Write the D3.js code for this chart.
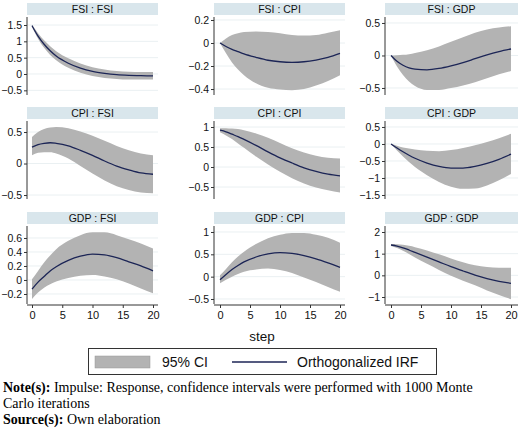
<!DOCTYPE html>
<html>
<head>
<meta charset="utf-8">
<script src="https://cdn.jsdelivr.net/npm/d3@7"></script>
<style>
  body { margin: 0; background: #fff; }
  svg { display: block; }
  .tick text { font-family: "Liberation Sans", Arial, sans-serif; }
</style>
</head>
<body>
<svg width="520" height="428"></svg>
<script>
var steps = [0, 1, 2, 3, 4, 6, 8, 10, 12, 14, 16, 18, 20];
var xTicks = [0, 5, 10, 15, 20];

// impulse : response  (irf, lower 95%, upper 95%)
var fsiFsiIrf = [1.48, 1.16, 0.91, 0.71, 0.55, 0.33, 0.18, 0.08, 0.02, -0.02, -0.04, -0.05, -0.06];
var fsiFsiLo  = [1.45, 1.08, 0.80, 0.58, 0.42, 0.19, 0.04, -0.06, -0.12, -0.15, -0.17, -0.17, -0.17];
var fsiFsiHi  = [1.51, 1.25, 1.03, 0.85, 0.70, 0.48, 0.32, 0.21, 0.14, 0.09, 0.07, 0.06, 0.06];

var fsiCpiIrf = [0, -0.03, -0.055, -0.075, -0.095, -0.125, -0.15, -0.163, -0.168, -0.163, -0.148, -0.125, -0.09];
var fsiCpiLo  = [0, -0.09, -0.17, -0.23, -0.28, -0.35, -0.39, -0.405, -0.41, -0.40, -0.37, -0.33, -0.28];
var fsiCpiHi  = [0, 0.04, 0.07, 0.085, 0.095, 0.10, 0.095, 0.085, 0.07, 0.065, 0.07, 0.09, 0.11];

var fsiGdpIrf = [0, -0.09, -0.15, -0.19, -0.21, -0.22, -0.20, -0.16, -0.11, -0.05, 0.01, 0.06, 0.10];
var fsiGdpLo  = [0, -0.17, -0.30, -0.40, -0.47, -0.53, -0.53, -0.50, -0.46, -0.41, -0.35, -0.29, -0.24];
var fsiGdpHi  = [0, 0.005, 0.01, 0.02, 0.04, 0.08, 0.14, 0.21, 0.28, 0.35, 0.40, 0.43, 0.45];

var cpiFsiIrf = [0.26, 0.30, 0.32, 0.33, 0.32, 0.28, 0.21, 0.13, 0.04, -0.04, -0.10, -0.15, -0.17];
var cpiFsiLo  = [0.13, 0.17, 0.18, 0.18, 0.16, 0.08, -0.04, -0.16, -0.27, -0.36, -0.42, -0.46, -0.47];
var cpiFsiHi  = [0.42, 0.50, 0.55, 0.57, 0.58, 0.56, 0.51, 0.44, 0.36, 0.28, 0.21, 0.16, 0.13];

var cpiCpiIrf = [0.92, 0.88, 0.82, 0.76, 0.69, 0.54, 0.38, 0.23, 0.10, -0.02, -0.11, -0.18, -0.22];
var cpiCpiLo  = [0.87, 0.79, 0.70, 0.59, 0.48, 0.26, 0.06, -0.12, -0.28, -0.41, -0.51, -0.58, -0.64];
var cpiCpiHi  = [0.97, 0.97, 0.96, 0.95, 0.92, 0.84, 0.73, 0.60, 0.47, 0.36, 0.28, 0.23, 0.21];

var cpiGdpIrf = [0, -0.12, -0.23, -0.33, -0.42, -0.56, -0.66, -0.71, -0.71, -0.66, -0.57, -0.45, -0.30];
var cpiGdpLo  = [0, -0.19, -0.37, -0.53, -0.68, -0.92, -1.12, -1.26, -1.32, -1.31, -1.22, -1.07, -0.88];
var cpiGdpHi  = [0, -0.05, -0.10, -0.13, -0.16, -0.20, -0.21, -0.18, -0.12, -0.04, 0.06, 0.17, 0.30];

var gdpFsiIrf = [-0.13, -0.03, 0.05, 0.13, 0.19, 0.28, 0.34, 0.37, 0.36, 0.32, 0.26, 0.20, 0.13];
var gdpFsiLo  = [-0.27, -0.18, -0.11, -0.06, -0.02, 0.03, 0.06, 0.07, 0.05, 0.01, -0.05, -0.12, -0.19];
var gdpFsiHi  = [0.01, 0.13, 0.25, 0.35, 0.44, 0.56, 0.64, 0.68, 0.68, 0.64, 0.58, 0.52, 0.45];

var gdpCpiIrf = [-0.07, 0.05, 0.16, 0.25, 0.33, 0.44, 0.51, 0.54, 0.52, 0.47, 0.40, 0.31, 0.21];
var gdpCpiLo  = [-0.15, -0.07, 0.00, 0.06, 0.11, 0.16, 0.18, 0.15, 0.08, -0.02, -0.12, -0.23, -0.34];
var gdpCpiHi  = [0.03, 0.17, 0.32, 0.45, 0.56, 0.73, 0.86, 0.94, 0.98, 0.98, 0.94, 0.87, 0.76];

var gdpGdpIrf = [1.40, 1.35, 1.27, 1.17, 1.06, 0.84, 0.62, 0.40, 0.20, 0.01, -0.15, -0.28, -0.37];
var gdpGdpLo  = [1.35, 1.26, 1.13, 0.98, 0.82, 0.53, 0.25, -0.02, -0.25, -0.46, -0.70, -0.91, -1.10];
var gdpGdpHi  = [1.45, 1.44, 1.41, 1.36, 1.30, 1.15, 0.97, 0.78, 0.60, 0.46, 0.38, 0.35, 0.35];

// panel titles and y tick labels, row by row
var titles = ["FSI : FSI", "FSI : CPI", "FSI : GDP",
              "CPI : FSI", "CPI : CPI", "CPI : GDP",
              "GDP : FSI", "GDP : CPI", "GDP : GDP"];
var yTicks = [[-0.5, 0, 0.5, 1, 1.5], [-0.4, -0.2, 0, 0.2], [-0.5, 0, 0.5],
              [-0.5, 0, 0.5], [-0.5, 0, 0.5, 1], [-1.5, -1, -0.5, 0, 0.5],
              [-0.2, 0, 0.2, 0.4, 0.6], [-0.5, 0, 0.5, 1], [-1, 0, 1, 2]];
var series = [[fsiFsiIrf, fsiFsiLo, fsiFsiHi], [fsiCpiIrf, fsiCpiLo, fsiCpiHi], [fsiGdpIrf, fsiGdpLo, fsiGdpHi],
              [cpiFsiIrf, cpiFsiLo, cpiFsiHi], [cpiCpiIrf, cpiCpiLo, cpiCpiHi], [cpiGdpIrf, cpiGdpLo, cpiGdpHi],
              [gdpFsiIrf, gdpFsiLo, gdpFsiHi], [gdpCpiIrf, gdpCpiLo, gdpCpiHi], [gdpGdpIrf, gdpGdpLo, gdpGdpHi]];

// y range of each panel's plot region
var yDomains = [[-0.643, 1.745], [-0.452, 0.226], [-0.608, 0.592],
                [-0.563, 0.675], [-0.8, 1.15], [-1.618, 0.676],
                [-0.343, 0.771], [-0.612, 1.134], [-1.323, 2.277]];

var svg = d3.select("svg");

var cols = [{axis: 27, x0: 32, x1: 153, right: 158},
            {axis: 214, x0: 220, x1: 340, right: 345},
            {axis: 385, x0: 391, x1: 511, right: 518}];
var rows = [{strip: 3, top: 17, bottom: 95},
            {strip: 107, top: 121, bottom: 199},
            {strip: 212, top: 226, bottom: 304}];

var bandColor = "#b3b3b3",
    lineColor = "#1c2556",
    stripColor = "#d9e6ec",
    gridColor = "#eaf0f2";

titles.forEach(function(title, i) {
    var c = cols[i % 3], r = rows[Math.floor(i / 3)];
    var x = d3.scaleLinear().domain([0, 20]).range([c.x0, c.x1]);
    var y = d3.scaleLinear().domain(yDomains[i]).range([r.bottom, r.top]);
    var g = svg.append("g");

    // strip title
    g.append("rect")
        .attr("x", c.axis).attr("y", r.strip)
        .attr("width", c.right - c.axis).attr("height", 12)
        .attr("fill", stripColor);
    g.append("text")
        .attr("x", (c.axis + c.right) / 2).attr("y", r.strip + 10)
        .attr("text-anchor", "middle")
        .attr("font-family", "Liberation Sans, Arial, sans-serif")
        .attr("font-size", 10.5).attr("fill", "#111")
        .text(title);

    // faint grid
    g.selectAll("line.grid").data(yTicks[i]).enter().append("line")
        .attr("class", "grid")
        .attr("x1", c.axis).attr("x2", c.right)
        .attr("y1", function(d) { return y(d); })
        .attr("y2", function(d) { return y(d); })
        .attr("stroke", gridColor).attr("stroke-width", 1);

    var data = steps.map(function(s, k) {
        return {s: s, irf: series[i][0][k], lo: series[i][1][k], hi: series[i][2][k]};
    });

    g.append("path").datum(data)
        .attr("fill", bandColor)
        .attr("d", d3.area()
            .curve(d3.curveMonotoneX)
            .x(function(d) { return x(d.s); })
            .y0(function(d) { return y(d.lo); })
            .y1(function(d) { return y(d.hi); }));

    g.append("path").datum(data)
        .attr("fill", "none")
        .attr("stroke", lineColor).attr("stroke-width", 1.3)
        .attr("d", d3.line()
            .curve(d3.curveMonotoneX)
            .x(function(d) { return x(d.s); })
            .y(function(d) { return y(d.irf); }));

    // y axis
    var yAxis = g.append("g")
        .attr("transform", "translate(" + c.axis + ",0)")
        .call(d3.axisLeft(y).tickValues(yTicks[i]).tickSize(3).tickPadding(2)
            .tickFormat(function(d) { return d3.format("")(d).replace("-", "\u2212"); }));
    yAxis.select(".domain").attr("d", "M0," + r.top + "V" + r.bottom).attr("stroke", "#333");
    yAxis.selectAll(".tick line").attr("stroke", "#333");
    yAxis.selectAll(".tick text").attr("font-size", 10.5).attr("fill", "#111");

    // x axis only on the bottom row
    if (i >= 6) {
        var xAxis = g.append("g")
            .attr("transform", "translate(0," + (r.bottom + 1) + ")")
            .call(d3.axisBottom(x).tickValues(xTicks).tickSize(3).tickPadding(3));
        xAxis.select(".domain").attr("d", "M" + c.axis + ",0H" + c.right).attr("stroke", "#333");
        xAxis.selectAll(".tick line").attr("stroke", "#333");
        xAxis.selectAll(".tick text").attr("font-size", 11).attr("fill", "#111");
    }
});

// x title
svg.append("text")
    .attr("x", 262).attr("y", 341)
    .attr("text-anchor", "middle")
    .attr("font-family", "Liberation Sans, Arial, sans-serif")
    .attr("font-size", 13.5).attr("fill", "#111")
    .text("step");

// legend
var leg = svg.append("g");
leg.append("rect")
    .attr("x", 88.5).attr("y", 348.5).attr("width", 348).attr("height", 26)
    .attr("fill", "#fff").attr("stroke", "#333");
leg.append("rect")
    .attr("x", 95).attr("y", 356).attr("width", 55).attr("height", 12)
    .attr("fill", bandColor).attr("stroke", "#999").attr("stroke-width", 0.5);
leg.append("text")
    .attr("x", 162).attr("y", 367)
    .attr("font-family", "Liberation Sans, Arial, sans-serif")
    .attr("font-size", 14).attr("fill", "#111")
    .text("95% CI");
leg.append("line")
    .attr("x1", 232).attr("x2", 287).attr("y1", 362).attr("y2", 362)
    .attr("stroke", lineColor).attr("stroke-width", 1.3);
leg.append("text")
    .attr("x", 297).attr("y", 367)
    .attr("font-family", "Liberation Sans, Arial, sans-serif")
    .attr("font-size", 14).attr("fill", "#111")
    .text("Orthogonalized IRF");

// notes
var notes = [
    {bold: "Note(s):", rest: " Impulse: Response, confidence intervals were performed with 1000 Monte", y: 392},
    {bold: "", rest: "Carlo iterations", y: 408},
    {bold: "Source(s):", rest: " Own elaboration", y: 424}
];
notes.forEach(function(n) {
    var t = svg.append("text")
        .attr("x", 3).attr("y", n.y)
        .attr("font-family", "Liberation Serif, Times New Roman, serif")
        .attr("font-size", 14).attr("fill", "#000");
    if (n.bold) t.append("tspan").attr("font-weight", "bold").text(n.bold);
    t.append("tspan").text(n.rest);
});
</script>
</body>
</html>
